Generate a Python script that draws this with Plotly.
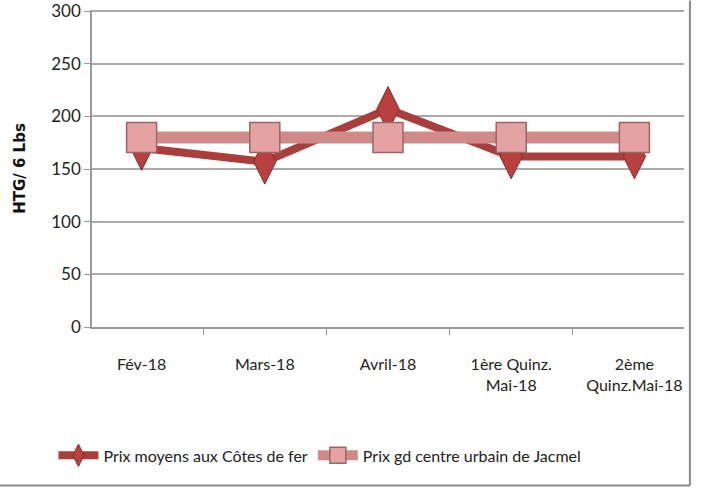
import plotly.graph_objects as go

periodes = ['Fév-18', 'Mars-18', 'Avril-18', '1ère Quinz.<br>Mai-18', '2ème<br>Quinz.Mai-18']
prix_cotes_de_fer = [170, 157, 207, 162, 162]
prix_jacmel = [180, 180, 180, 180, 180]

police = 'Lato, Open Sans, sans-serif'

fig = go.Figure()

fig.add_trace(go.Scatter(
    x=periodes, y=prix_cotes_de_fer, mode='lines+markers',
    name='Prix moyens aux Côtes de fer',
    line=dict(color='#a83f3c', width=8),
    marker=dict(symbol='diamond-tall', size=32, color='#b8403e',
                line=dict(color='#8a2c2a', width=1))))

fig.add_trace(go.Scatter(
    x=periodes, y=prix_jacmel, mode='lines+markers',
    name='Prix gd centre urbain de Jacmel',
    line=dict(color='#d08b89', width=12),
    marker=dict(symbol='square', size=30, color='#e4a3a2',
                line=dict(color='#9a6664', width=1.5))))

fig.update_layout(
    width=709, height=502,
    margin=dict(l=92, r=25, t=10, b=175, autoexpand=False),
    plot_bgcolor='white', paper_bgcolor='white',
    font=dict(family=police, size=16, color='#222'),
    legend=dict(orientation='h', x=0.385, xanchor='center', y=-0.405, yanchor='middle',
                font=dict(size=16), itemwidth=40, traceorder='normal'),
    shapes=[
        dict(type='line', xref='paper', yref='paper', x0=1.01, x1=1.01, y0=1.03, y1=-0.5,
             line=dict(color='#888', width=2)),
        dict(type='line', xref='paper', yref='paper', x0=-0.2, x1=1.01, y0=-0.5, y1=-0.5,
             line=dict(color='#888', width=2)),
    ],
)

fig.update_xaxes(
    type='category', tickson='boundaries', ticks='outside', ticklen=6, tickcolor='#999',
    showline=True, linecolor='#999', linewidth=1.5, showgrid=False, automargin=False,
    tickfont=dict(size=16, family=police), ticklabelstandoff=22)

fig.update_yaxes(
    range=[0, 301], dtick=50, ticks='outside', ticklen=6, tickcolor='#999',
    showline=True, linecolor='#999', linewidth=1.5, automargin=False,
    gridcolor='#aaa', gridwidth=1.5, zeroline=False, ticklabeloverflow='allow',
    tickfont=dict(size=17, family=police),
    title=dict(text='<b>HTG/ 6 Lbs</b>', font=dict(size=15, family='DejaVu Sans', color='#111'),
               standoff=22))

fig.write_html('out.html', config={'displayModeBar': False},
               post_script="document.body.style.margin='0';")
